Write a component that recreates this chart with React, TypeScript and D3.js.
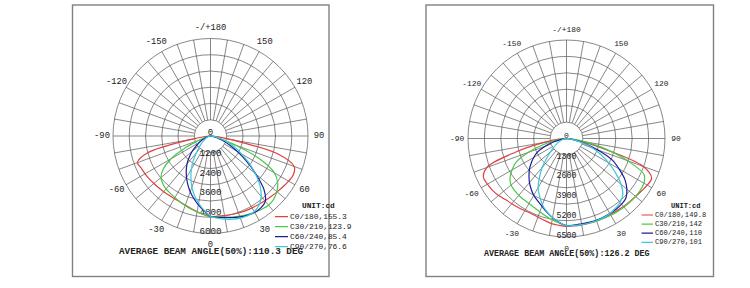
import React from 'react';
import * as d3 from 'd3';

// gamma angles (deg) from nadir
const GAMMA = [0, 5, 10, 15, 20, 25, 30, 35, 40, 45, 50, 55, 60, 65, 70, 75, 80, 85, 90];

// ---- Left chart (cd) ----
const L_NAMES = ['C0/180,155.3', 'C30/210,123.9', 'C60/240,85.4', 'C90/270,76.6'];
const L_C0 = [4950, 4950, 4970, 5000, 5040, 5080, 5110, 5150, 5200, 5270, 5350, 5450, 5550, 5630, 5480, 4300, 1300, 400, 0];
const L_C180 = [4950, 4850, 4730, 4620, 4530, 4470, 4450, 4460, 4480, 4510, 4550, 4600, 4650, 4700, 4780, 4000, 1200, 350, 0];
const L_C30 = [4950, 4990, 5070, 5160, 5250, 5340, 5420, 5500, 5560, 5500, 5330, 5050, 4550, 3350, 1600, 700, 300, 100, 0];
const L_C210 = [4950, 4850, 4750, 4650, 4550, 4460, 4380, 4310, 4250, 4150, 3980, 3550, 2800, 1650, 700, 300, 150, 50, 0];
const L_C60 = [4950, 5020, 5100, 5200, 5300, 5380, 5430, 5400, 5250, 4650, 3650, 2700, 1900, 1300, 800, 400, 200, 80, 0];
const L_C240 = [4950, 4620, 4300, 3980, 3650, 3300, 2950, 2600, 2250, 1850, 1480, 1100, 800, 550, 350, 200, 100, 40, 0];
const L_C90 = [4950, 5080, 5200, 5300, 5380, 5420, 5380, 5200, 4850, 4300, 3600, 2900, 2200, 1650, 1100, 650, 300, 100, 0];
const L_C270 = [4950, 4580, 4200, 3800, 3350, 2850, 2350, 1850, 1350, 1000, 750, 550, 400, 300, 200, 130, 80, 30, 0];
const L_TICKS = [1200, 2400, 3600, 4800, 6000];
const L_TITLE = 'AVERAGE BEAM ANGLE(50%):110.3 DEG';

// ---- Right chart (cd) ----
const R_NAMES = ['C0/180,149.8', 'C30/210,142', 'C60/240,110', 'C90/270,101'];
const R_C0 = [5800, 5795, 5790, 5790, 5790, 5790, 5790, 5810, 5850, 5890, 5950, 6040, 6150, 6200, 5400, 2300, 800, 250, 0];
const R_C180 = [5800, 5750, 5700, 5600, 5520, 5480, 5500, 5560, 5620, 5700, 5850, 5960, 6030, 6050, 5600, 3500, 1500, 500, 0];
const R_C30 = [5750, 5750, 5750, 5770, 5800, 5820, 5850, 5880, 5900, 5930, 5950, 5950, 5900, 5650, 4300, 2700, 1200, 400, 0];
const R_C210 = [5750, 5600, 5450, 5300, 5150, 5030, 4950, 4920, 4900, 4850, 4780, 4550, 4150, 3650, 2700, 1600, 800, 250, 0];
const R_C60 = [5750, 5740, 5720, 5730, 5740, 5730, 5720, 5700, 5650, 5550, 5200, 4700, 4000, 3300, 2200, 1200, 500, 150, 0];
const R_C240 = [5750, 5550, 5300, 5030, 4750, 4530, 4330, 4070, 3800, 3500, 3200, 2850, 2500, 2100, 1500, 900, 400, 100, 0];
const R_C90 = [5750, 5760, 5770, 5775, 5780, 5760, 5720, 5620, 5500, 5250, 4700, 3950, 3200, 2500, 1800, 1000, 450, 150, 0];
const R_C270 = [5750, 5550, 5300, 5000, 4650, 4200, 3750, 3100, 2500, 1850, 1400, 1050, 800, 600, 400, 250, 150, 50, 0];
const R_TICKS = [1300, 2600, 3900, 5200, 6500];
const R_TITLE = 'AVERAGE BEAM ANGLE(50%):126.2 DEG';

const ANGLE_LABELS = [0, 30, 60, 90, 120, 150, 180, -150, -120, -90, -60, -30];
const COLORS = ['#e04040', '#48c848', '#1c1c9c', '#3cc8dc'];
const FONT = '"Liberation Mono", "DejaVu Sans Mono", monospace';

type PanelProps = {
  frame: { x: number; y: number; w: number; h: number };
  cx: number; cy: number; R: number; max: number;
  ticks: number[];
  names: string[];
  planes: [number[], number[]][]; // [right half, left half]
  title: string;
  fs: number;
  titleX: number;
  legend: { lineX0: number; lineX1: number; textX: number; unitX: number; unitY: number; y0: number; dy: number; clipX: number };
};

function Panel(p: PanelProps) {
  const r = d3.scaleLinear().domain([0, p.max]).range([0, p.R]);
  const rings = d3.range(1, 7).map((k) => (p.R * k) / 6);
  const inner = p.R / 6;
  const spokes = d3.range(0, 360, 10);
  const rad = (deg: number) => (deg * Math.PI) / 180;
  const line = d3
    .lineRadial<[number, number]>()
    .angle((d) => d[0])
    .radius((d) => d[1])
    .curve(d3.curveCatmullRom.alpha(0.5));
  const clipId = `clip-${p.cx}`;
  return (
    <g>
      <defs>
        <clipPath id={clipId}>
          <rect x={p.frame.x} y={p.frame.y} width={p.legend.clipX - p.frame.x} height={p.frame.h} />
        </clipPath>
      </defs>
      <rect x={p.frame.x} y={p.frame.y} width={p.frame.w} height={p.frame.h} fill="white" stroke="#808080" strokeWidth={1.4} />
      <g transform={`translate(${p.cx},${p.cy})`}>
        {rings.map((rr, i) => (
          <circle key={i} r={rr} fill="none" stroke="#555" strokeWidth={0.7} />
        ))}
        {spokes.map((a) => (
          <line
            key={a}
            x1={inner * Math.sin(rad(a))}
            y1={inner * Math.cos(rad(a))}
            x2={p.R * Math.sin(rad(a))}
            y2={p.R * Math.cos(rad(a))}
            stroke="#555"
            strokeWidth={0.7}
          />
        ))}
        {ANGLE_LABELS.map((a) => {
          const lr = p.R + 11;
          return (
            <text
              key={a}
              x={lr * Math.sin(rad(a))}
              y={lr * Math.cos(rad(a))}
              textAnchor="middle"
              dominantBaseline="central"
              fontFamily={FONT}
              fontSize={8.8 * p.fs}
              fill="#222"
            >
              {a === 180 ? '-/+180' : String(a)}
            </text>
          );
        })}
        <text x={0} y={-3} textAnchor="middle" dominantBaseline="central" fontFamily={FONT} fontSize={9 * p.fs} fill="#222">0</text>
        {p.ticks.map((t) => (
          <text key={t} x={0} y={r(t) - 2} textAnchor="middle" dominantBaseline="central" fontFamily={FONT} fontSize={9.2 * p.fs} fill="#222">
            {t}
          </text>
        ))}
        {p.planes.map(([right, left], i) => {
          const pts: [number, number][] = [];
          for (let k = GAMMA.length - 1; k >= 0; k--) pts.push([Math.PI + rad(GAMMA[k]), r(left[k])]);
          for (let k = 1; k < GAMMA.length; k++) pts.push([Math.PI - rad(GAMMA[k]), r(right[k])]);
          return <path key={i} d={line(pts) || ''} fill="none" stroke={COLORS[i]} strokeWidth={1.2} />;
        })}
      </g>
      <text x={p.titleX} y={p.cy + 115} fontFamily={FONT} fontWeight="bold" fontSize={9.3 * p.fs} fill="#222" dominantBaseline="central">
        {p.title}
      </text>
      <g clipPath={`url(#${clipId})`}>
        <text x={p.legend.unitX} y={p.legend.unitY} fontFamily={FONT} fontWeight="bold" fontSize={7.8 * p.fs} fill="#222" dominantBaseline="central">
          UNIT:cd
        </text>
        {p.names.map((n, i) => {
          const y = p.legend.y0 + i * p.legend.dy;
          return (
            <g key={n}>
              <line x1={p.legend.lineX0} x2={p.legend.lineX1} y1={y} y2={y} stroke={COLORS[i]} strokeWidth={1.2} />
              <text x={p.legend.textX} y={y} fontFamily={FONT} fontSize={7.9 * p.fs} fill="#222" dominantBaseline="central">
                {n}
              </text>
            </g>
          );
        })}
      </g>
    </g>
  );
}

export default function App() {
  return (
    <svg width={750} height={288} style={{ position: 'absolute', left: 0, top: 0, background: 'white' }}>
      <rect x={0} y={0} width={750} height={288} fill="white" />
      <Panel
        frame={{ x: 72.5, y: 5, w: 256.5, h: 271.5 }}
        cx={210.5}
        cy={136}
        R={97.5}
        max={6000}
        ticks={L_TICKS}
        names={L_NAMES}
        planes={[[L_C0, L_C180], [L_C30, L_C210], [L_C60, L_C240], [L_C90, L_C270]]}
        title={L_TITLE}
        fs={1}
        titleX={119}
        legend={{ lineX0: 275, lineX1: 288, textX: 290, unitX: 302, unitY: 205.7, y0: 216.7, dy: 10, clipX: 360 }}
      />
      <Panel
        frame={{ x: 426, y: 5, w: 287.5, h: 271.5 }}
        cx={566.5}
        cy={138.5}
        R={98.5}
        max={6500}
        ticks={R_TICKS}
        names={R_NAMES}
        planes={[[R_C0, R_C180], [R_C30, R_C210], [R_C60, R_C240], [R_C90, R_C270]]}
        title={R_TITLE}
        fs={0.9}
        titleX={484}
        legend={{ lineX0: 641.5, lineX1: 653, textX: 655, unitX: 671, unitY: 205.7, y0: 215, dy: 9.1, clipX: 706 }}
      />
    </svg>
  );
}
